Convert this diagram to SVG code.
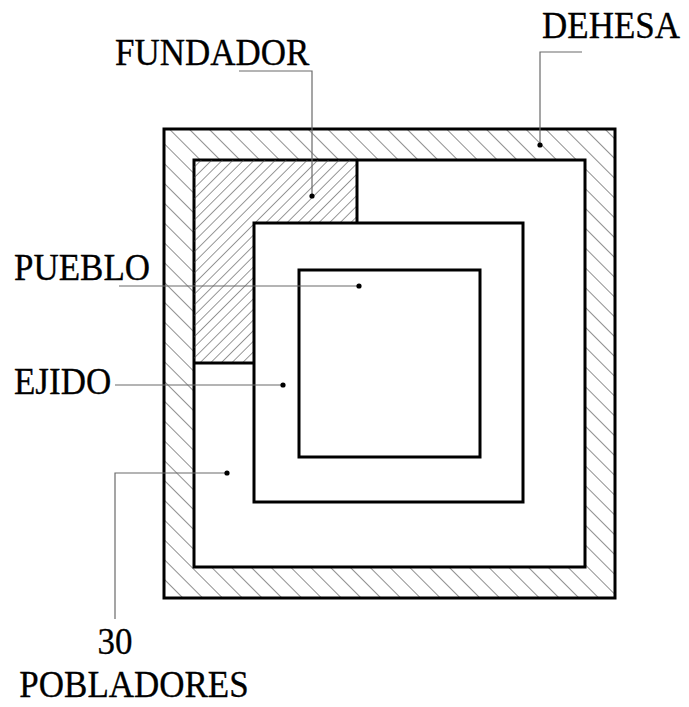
<svg xmlns="http://www.w3.org/2000/svg" width="689" height="707" viewBox="0 0 689 707">
<style>
.border{fill:none;stroke:#000;stroke-width:3}
.white{fill:#fff}
.lead{fill:none;stroke:#6a6a6a;stroke-width:1.2}
.dot{fill:#000}
.lbl{font-family:"Liberation Serif","Times New Roman",serif;font-size:35px;fill:#000;stroke:#000;stroke-width:0.3}
</style>
<defs>
<pattern id="hatchD" width="14" height="14" patternUnits="userSpaceOnUse" patternTransform="rotate(-45)">
<line x1="0" y1="0" x2="0" y2="14" stroke="#444" stroke-width="1.2"/>
</pattern>
<pattern id="hatchF" width="7.5" height="7.5" patternUnits="userSpaceOnUse" patternTransform="rotate(45)">
<line x1="0" y1="0" x2="0" y2="7.5" stroke="#444" stroke-width="1.1"/>
</pattern>
</defs>
<rect width="689" height="707" fill="#fff"/>
<g id="dehesa">
<rect x="164" y="129" width="451" height="469" fill="url(#hatchD)"/>
<rect x="194" y="160" width="391" height="407" class="white"/>
<rect x="164" y="129" width="451" height="469" class="border"/>
<rect x="194" y="160" width="391" height="407" class="border"/>
</g>
<g id="fundador">
<path d="M194,160 H357 V223 H254 V363 H194 Z" fill="url(#hatchF)"/>
<path d="M357,160 V223 M194,363 H254" class="border"/>
</g>
<g id="ejido">
<rect x="254" y="223" width="269" height="279" class="white"/>
<rect x="254" y="223" width="269" height="279" class="border"/>
</g>
<g id="pueblo">
<rect x="299" y="270" width="181" height="187" class="white"/>
<rect x="299" y="270" width="181" height="187" class="border"/>
</g>
<g id="connectors">
<path d="M239,71 H312 V196" class="lead"/>
<path d="M582,52 H540 V145" class="lead"/>
<path d="M119,286 H359" class="lead"/>
<path d="M115,385 H283" class="lead"/>
<path d="M115,619 V473 H227" class="lead"/>
<circle cx="312" cy="196" r="2.6" class="dot"/>
<circle cx="540" cy="145" r="2.6" class="dot"/>
<circle cx="359" cy="286" r="2.6" class="dot"/>
<circle cx="283" cy="385" r="2.6" class="dot"/>
<circle cx="227" cy="473" r="2.6" class="dot"/>
</g>
<g id="labels">
<text class="lbl" transform="translate(115,65) scale(1,1.08)">FUNDADOR</text>
<text class="lbl" transform="translate(542,38) scale(1,1.08)">DEHESA</text>
<text class="lbl" transform="translate(14,280) scale(1,1.08)">PUEBLO</text>
<text class="lbl" transform="translate(14,394) scale(1,1.08)">EJIDO</text>
<text class="lbl" text-anchor="middle" transform="translate(115,654) scale(1,1.08)">30</text>
<text class="lbl" text-anchor="middle" transform="translate(134,697) scale(1,1.08)">POBLADORES</text>
</g>
</svg>
